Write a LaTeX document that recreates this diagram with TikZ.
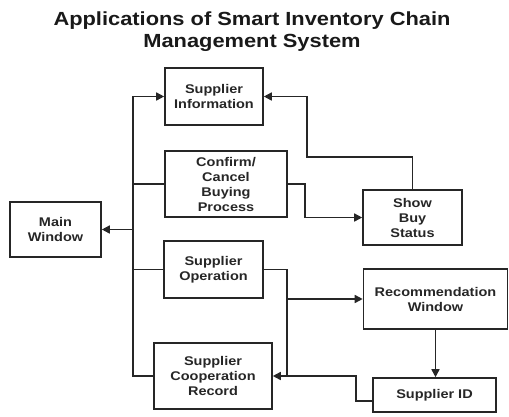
\documentclass[tikz,border=0pt]{standalone}
\usepackage{fontspec}
\setmainfont{Liberation Sans}[FakeStretch=1.15]
\usetikzlibrary{arrows.meta,calc}
\begin{document}
\begin{tikzpicture}[x=1pt,y=-1pt,
  box/.style={draw=black!85, line width=1.6pt, rectangle, inner sep=0pt, align=center,
    font=\fontsize{12.6}{15}\selectfont\bfseries, text=black!85},
  con/.style={draw=black!85, line width=1.6pt},
  arr/.style={con, -{Triangle[length=8pt,width=8pt]}}]
\useasboundingbox (0,0) rectangle (509,416);
\node[font=\fontsize{19}{22}\selectfont\bfseries, align=center, text=black!90] (title) at (252,32)
  {Applications of Smart Inventory Chain\\Management System};
\node[box, minimum width=98pt, minimum height=57pt] (SI) at (214,96.5) {Supplier\\Information};
\node[box, minimum width=122pt, minimum height=66pt] (CBP) at (226,184) {Confirm/\\Cancel\\Buying\\Process};
\node[box, minimum width=91pt, minimum height=55pt] (MW) at (55.5,229.5) {Main\\Window};
\node[box, minimum width=99pt, minimum height=57pt] (SO) at (213.5,269.5) {Supplier\\Operation};
\node[box, minimum width=118pt, minimum height=66pt] (SCR) at (213,376) {Supplier\\Cooperation\\Record};
\node[box, minimum width=99pt, minimum height=55pt] (SBS) at (412.5,217.5) {Show\\Buy\\Status};
\node[box, minimum width=144pt, minimum height=60pt] (RW) at (435.5,299) {Recommendation\\Window};
\node[box, minimum width=123pt, minimum height=34pt] (SID) at (434.5,395) {Supplier ID};
\coordinate (bx) at (133,0);
\coordinate (jx) at (287,0);
\coordinate (k1) at (307,157);
% main bus
\draw[arr] (SCR.west) -- (SCR.west -| bx) -- (SI.west -| bx) -- (SI.west);
\draw[arr] (MW.east -| bx) -- (MW.east);
\draw[con] (CBP.west) -- (CBP.west -| bx);
\draw[con] (SO.west) -- (SO.west -| bx);
% confirm -> show buy status
\draw[arr] (CBP.east) -- ++(17,0) |- (SBS.west);
% show buy status -> supplier information
\draw[arr] (SBS.north) |- (k1) |- (SI.east);
% supplier operation
\draw[con] (SO.east) -- (SO.east -| jx) -- (SCR.east -| jx);
\draw[arr] (RW.west -| jx) -- (RW.west);
\draw[arr] (RW.south) -- (RW.south |- SID.north);
\draw[arr] ($(SID.west)+(0,6)$) -- ++(-16,0) |- (SCR.east);
\end{tikzpicture}
\end{document}
